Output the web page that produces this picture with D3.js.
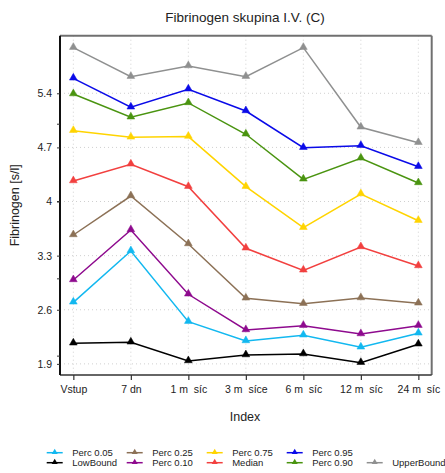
<!DOCTYPE html>
<html>
<head>
<meta charset="utf-8">
<script src="https://cdn.jsdelivr.net/npm/d3@7"></script>
<style>
  html, body { margin: 0; padding: 0; background: #fff; }
  svg text { font-family: "Liberation Sans", Arimo, Arial, sans-serif; fill: #222; }
</style>
</head>
<body>
<svg id="chart" width="445" height="473"></svg>
<script>
// Time points (x categories)
const categories = ["Vstup", "7 dn", "1 m  síc", "3 m  síce", "6 m  síc", "12 m  síc", "24 m  síc"];

// Y axis labelled ticks and unlabelled minor ticks
const yTickValues = [1.9, 2.6, 3.3, 4.0, 4.7, 5.4];
const yMinorTicks = [2, 3, 4, 5];

// Series values per time point
const upperBound = [5.99, 5.615, 5.753, 5.615, 5.99, 4.96, 4.76];
const perc95     = [5.594, 5.219, 5.452, 5.171, 4.696, 4.722, 4.45];
const perc90     = [5.39, 5.09, 5.275, 4.87, 4.287, 4.559, 4.24];
const perc75     = [4.916, 4.83, 4.84, 4.192, 3.661, 4.097, 3.752];
const median     = [4.265, 4.481, 4.192, 3.395, 3.11, 3.412, 3.166];
const perc25     = [3.567, 4.071, 3.45, 2.748, 2.678, 2.752, 2.683];
const perc10     = [2.985, 3.632, 2.8, 2.338, 2.394, 2.286, 2.394];
const perc05     = [2.696, 3.36, 2.446, 2.196, 2.27, 2.114, 2.295];
const lowBound   = [2.166, 2.179, 1.937, 2.014, 2.027, 1.915, 2.153];

// Series with their legend slot (column, row)
const series = [
  { name: "Perc 0.05",  values: perc05,     color: "#12b8f0", col: 0, row: 0 },
  { name: "LowBound",   values: lowBound,   color: "#000000", col: 0, row: 1 },
  { name: "Perc 0.25",  values: perc25,     color: "#8c7156", col: 1, row: 0 },
  { name: "Perc 0.10",  values: perc10,     color: "#8e0a8e", col: 1, row: 1 },
  { name: "Perc 0.75",  values: perc75,     color: "#ffd400", col: 2, row: 0 },
  { name: "Median",     values: median,     color: "#f2403f", col: 2, row: 1 },
  { name: "Perc 0.95",  values: perc95,     color: "#0a0ae8", col: 3, row: 0 },
  { name: "Perc 0.90",  values: perc90,     color: "#4a9410", col: 3, row: 1 },
  { name: "UpperBound", values: upperBound, color: "#8f9090", col: 4, row: 1 }
];

const font = "'Liberation Sans', Arimo, Arial, sans-serif";

const svg = d3.select("#chart");
const plot = { left: 60, right: 431.7, top: 35.7, bottom: 375 };

const x = d3.scalePoint()
  .domain(categories)
  .range([plot.left, plot.right])
  .padding(0.232);

const y = d3.scaleLinear()
  .domain([1.756, 6.145])
  .range([plot.bottom, plot.top]);

// Dotted grid
const grid = svg.append("g");
grid.selectAll("line.gx").data(categories).join("line")
  .attr("x1", d => x(d)).attr("x2", d => x(d))
  .attr("y1", plot.top).attr("y2", plot.bottom)
  .attr("stroke", "#d0d0d0").attr("stroke-width", 1).attr("stroke-dasharray", "1,3");
grid.selectAll("line.gy").data(yTickValues).join("line")
  .attr("x1", plot.left).attr("x2", plot.right)
  .attr("y1", d => y(d)).attr("y2", d => y(d))
  .attr("stroke", "#d0d0d0").attr("stroke-width", 1).attr("stroke-dasharray", "1,3");

// Frame: grey top/right, dark bottom, black left
svg.append("line").attr("x1", plot.left).attr("x2", plot.right).attr("y1", plot.top).attr("y2", plot.top)
  .attr("stroke", "#707070").attr("stroke-width", 2);
svg.append("line").attr("x1", plot.right).attr("x2", plot.right).attr("y1", plot.top).attr("y2", plot.bottom)
  .attr("stroke", "#707070").attr("stroke-width", 2);

// Series lines and triangle markers
const line = d3.line().x((d, i) => x(categories[i])).y(d => y(d));
const tri = d3.symbol().type(d3.symbolTriangle).size(26);

series.forEach(s => {
  const g = svg.append("g");
  g.append("path")
    .attr("d", line(s.values))
    .attr("fill", "none")
    .attr("stroke", s.color)
    .attr("stroke-width", 1.5);
  g.selectAll("path.m").data(s.values).join("path")
    .attr("class", "m")
    .attr("d", tri)
    .attr("transform", (d, i) => `translate(${x(categories[i])},${y(d) - 0.5})`)
    .attr("fill", s.color)
    .attr("stroke", s.color)
    .attr("stroke-opacity", 0.5)
    .attr("stroke-width", 1);
});

// Axes
const xAxis = d3.axisBottom(x).tickSize(5).tickPadding(6);
const xg = svg.append("g").attr("transform", `translate(0,${plot.bottom})`).call(xAxis);
xg.attr("font-family", font);
xg.select(".domain").attr("stroke", "#333").attr("stroke-width", 1.5)
  .attr("d", `M${plot.left},0H${plot.right}`);
xg.selectAll(".tick line").attr("stroke", "#333").attr("stroke-width", 1.2);
xg.selectAll(".tick text").style("font-size", "10.5px").attr("fill", "#222")
  .style("white-space", "pre");

const yAxis = d3.axisLeft(y).tickValues(yTickValues).tickSize(3).tickPadding(5)
  .tickFormat(d => d3.format("")(+d.toFixed(1)));
const yg = svg.append("g").attr("transform", `translate(${plot.left},0)`).call(yAxis);
yg.attr("font-family", font);
yg.select(".domain").attr("stroke", "#111").attr("stroke-width", 2)
  .attr("d", `M0,${plot.top}V${plot.bottom}`);
yg.selectAll(".tick line").attr("stroke", "#333");
yg.selectAll(".tick text").style("font-size", "10.5px").attr("fill", "#222");

svg.append("g").selectAll("line").data(yMinorTicks).join("line")
  .attr("x1", plot.left - 3).attr("x2", plot.left)
  .attr("y1", d => y(d)).attr("y2", d => y(d))
  .attr("stroke", "#333").attr("stroke-width", 1);

// Titles
svg.append("text").attr("x", 245).attr("y", 22).attr("text-anchor", "middle")
  .style("font-size", "13.5px").text("Fibrinogen skupina I.V. (C)");
svg.append("text").attr("x", 245).attr("y", 421).attr("text-anchor", "middle")
  .style("font-size", "12.5px").text("Index");
svg.append("text")
  .attr("transform", `translate(19,${(plot.top + plot.bottom) / 2}) rotate(-90)`)
  .attr("text-anchor", "middle")
  .style("font-size", "12.5px").text("Fibrinogen [s/l]");

// Legend
const legX = [46.7, 126.7, 206.7, 286.7, 366.7];
const legY = [452.7, 462.7];
const leg = svg.append("g");
series.forEach(s => {
  const item = leg.append("g").attr("transform", `translate(${legX[s.col]},${legY[s.row]})`);
  item.append("line").attr("x1", 0).attr("x2", 16).attr("y1", 0).attr("y2", 0)
    .attr("stroke", s.color).attr("stroke-width", 1.5);
  item.append("path").attr("d", d3.symbol().type(d3.symbolTriangle).size(16))
    .attr("transform", "translate(8,-0.5)").attr("fill", s.color);
  item.append("text").attr("x", 25.5).attr("y", 3.6)
    .style("font-size", "9.5px").text(s.name);
});
</script>
</body>
</html>
